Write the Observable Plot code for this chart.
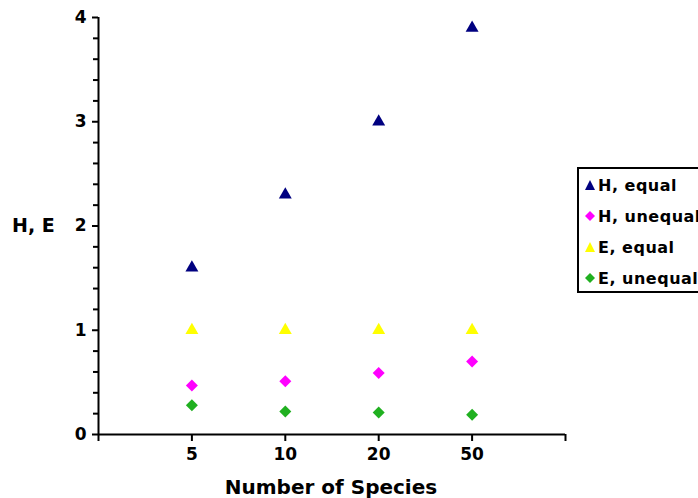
<!DOCTYPE html>
<html>
<head>
<meta charset="utf-8">
<script src="https://cdn.jsdelivr.net/npm/d3@7"></script>
<script src="https://cdn.jsdelivr.net/npm/@observablehq/plot@0.6"></script>
<style>
  html, body { margin: 0; padding: 0; background: #fff; overflow: hidden; width: 698px; height: 498px; }
  #wrap { position: relative; width: 698px; height: 498px; overflow: hidden; }
  #chart { position: absolute; left: 0; top: 0; }
  .lbl { position: absolute; font-family: "DejaVu Sans", sans-serif; font-weight: bold; color: #000; white-space: nowrap; }
  #legend { position: absolute; left: 577px; top: 167px; width: 160px; height: 122px; border: 2px solid #000; background: #fff; }
  .item { position: absolute; left: 6px; height: 20px; display: flex; align-items: center; font-family: "DejaVu Sans", sans-serif; font-weight: bold; font-size: 16px; letter-spacing: 0.5px; white-space: nowrap; }
  .item svg { margin-right: 3px; }
</style>
</head>
<body>
<div id="wrap">
  <div id="chart"></div>
  <div class="lbl" style="left:12px; top:214px; font-size:19px;">H, E</div>
  <div class="lbl" style="left:0px; width:662px; text-align:center; top:475px; font-size:20px;">Number of Species</div>
  <div id="legend"></div>
</div>
<script>
// Data
const species = ["5", "10", "20", "50"];
const hEqual = [1.6, 2.3, 3.0, 3.9];
const hUnequal = [0.47, 0.51, 0.59, 0.70];
const eEqual = [1.0, 1.0, 1.0, 1.0];
const eUnequal = [0.28, 0.22, 0.21, 0.19];
const seriesNames = ["H, equal", "H, unequal", "E, equal", "E, unequal"];
const seriesColors = ["#000080", "#ff00ff", "#ffff00", "#20b020"];
const seriesSymbols = ["triangle", "diamond2", "triangle", "diamond2"];
const yMajorTicks = [0, 1, 2, 3, 4];
const yMinorTicks = [0.2, 0.4, 0.6, 0.8, 1.2, 1.4, 1.6, 1.8, 2.2, 2.4, 2.6, 2.8, 3.2, 3.4, 3.6, 3.8];
const xTicks = [0, 1, 2, 3, 4, 5];

const seriesValues = [hEqual, hUnequal, eEqual, eUnequal];
const rows = [];
seriesValues.forEach((vals, s) => {
  vals.forEach((v, i) => rows.push({x: i + 1, y: v, s}));
});

const chart = Plot.plot({
  width: 698,
  height: 498,
  marginLeft: 98,
  marginRight: 133,
  marginTop: 17,
  marginBottom: 64,
  style: {background: "transparent", fontFamily: "DejaVu Sans, sans-serif", fontSize: "17px", fontWeight: "bold", color: "#000"},
  x: {domain: [0, 5], axis: null},
  y: {domain: [0, 4], axis: null},
  marks: [
    Plot.axisY(yMinorTicks, {tickSize: 5, tickFormat: () => "", strokeWidth: 2, stroke: "#000", label: null}),
    Plot.axisY(yMajorTicks, {tickSize: 6, tickPadding: 6, tickFormat: d => String(d), strokeWidth: 2, stroke: "#000", fill: "#000", label: null}),
    Plot.axisX(xTicks, {tickSize: 7, tickPadding: 6, tickFormat: d => species[d - 1] ?? "", strokeWidth: 2, stroke: "#000", fill: "#000", label: null}),
    Plot.ruleY([0], {stroke: "#000", strokeWidth: 2}),
    Plot.ruleX([0], {stroke: "#000", strokeWidth: 2}),
    ...seriesValues.map((vals, s) => Plot.dot(rows.filter(r => r.s === s), {
      x: "x", y: "y",
      symbol: () => seriesSymbols[s],
      fill: seriesColors[s],
      stroke: "none",
      r: seriesSymbols[s] === "triangle" ? 4.8 : 5.4
    }))
  ]
});
document.getElementById("chart").appendChild(chart);

// Legend
const legend = document.getElementById("legend");
seriesNames.forEach((name, i) => {
  const div = document.createElement("div");
  div.className = "item";
  div.style.top = (6 + i * 31) + "px";
  const sym = seriesSymbols[i] === "triangle"
    ? `<polygon points="5,0 10,10 0,10" fill="${seriesColors[i]}"/>`
    : `<polygon points="5,0 10,5 5,10 0,5" fill="${seriesColors[i]}"/>`;
  div.innerHTML = `<svg width="10" height="10" viewBox="0 0 10 10">${sym}</svg><span>${name}</span>`;
  legend.appendChild(div);
});
</script>
</body>
</html>
